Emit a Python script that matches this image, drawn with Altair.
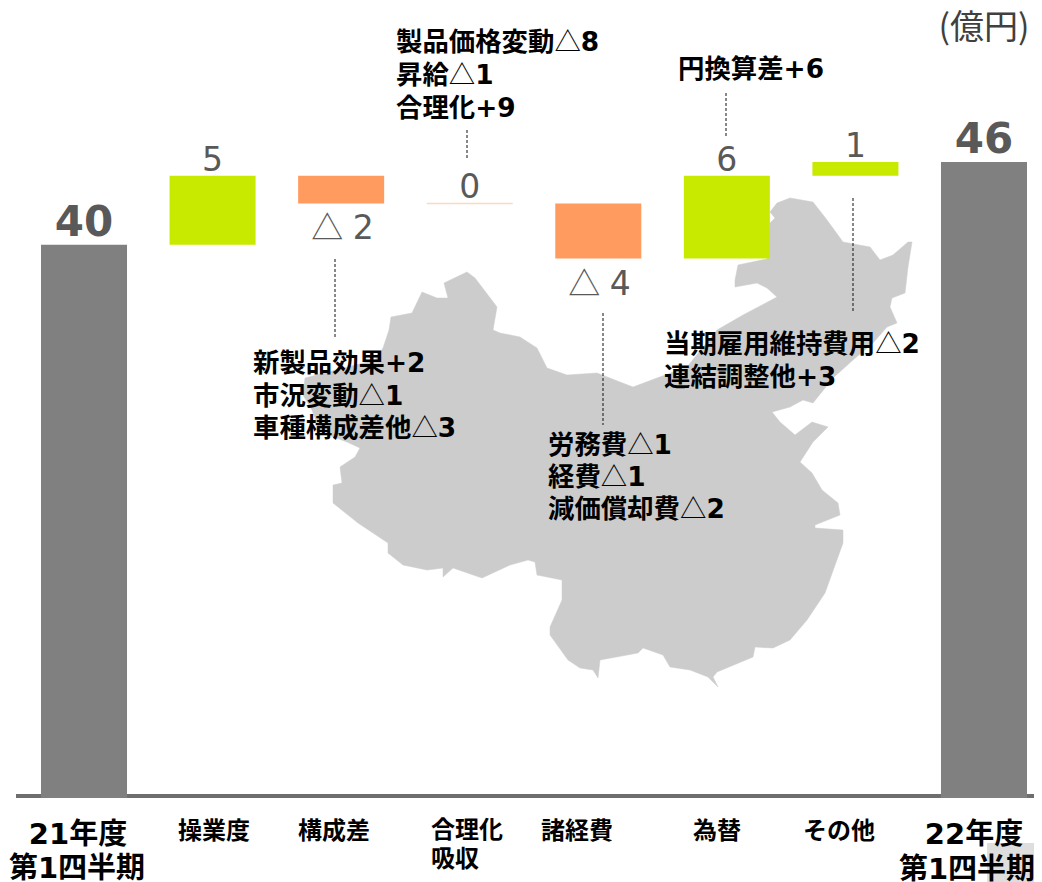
import altair as alt
import pandas as pd

FONT = "DejaVu Sans, Noto Sans CJK JP"
CJK = "Noto Sans CJK JP"

categories = ["21年度", "操業度", "構成差", "合理化吸収", "諸経費", "為替", "その他", "22年度"]
bar_start = [-0.15, 40, 45, 43, 43, 39, 45, -0.15]
bar_end = [40, 45, 43, 43, 39, 45, 46, 46]
bar_color = ["#808080", "#C8E900", "#FF9B5E", "#FFD8C0", "#FF9B5E", "#C8E900", "#C8E900", "#808080"]

total_labels = ["40", "46"]
total_cats = ["21年度", "22年度"]
total_vals = [40, 46]
up_labels = ["5", "0", "6", "1"]
up_cats = ["操業度", "合理化吸収", "為替", "その他"]
up_vals = [45, 43, 45, 46]
down_marks = ["△", "△"]
down_digits = ["2", "4"]
down_cats = ["構成差", "諸経費"]
down_vals = [43, 39]

note_text = ["製品価格変動△8", "昇給△1", "合理化+9", "円換算差+6",
             "新製品効果+2", "市況変動△1", "車種構成差他△3",
             "労務費△1", "経費△1", "減価償却費△2",
             "当期雇用維持費用△2", "連結調整他+3"]
note_x = [396, 396, 396, 678, 253, 253, 253, 548, 548, 548, 664, 664]
note_y = [43, 76, 109, 70, 364, 397, 429, 446, 478, 510, 345, 378]

leader_x = [335, 467, 603, 726, 853]
leader_y1 = [259, 130, 313, 93, 198]
leader_y2 = [338, 158, 425, 136, 312]

small_text = ["操業度", "構成差", "合理化", "吸収", "諸経費", "為替", "その他"]
small_x = [214, 334, 467, 455, 577, 717, 839]
small_y = [832, 832, 831, 860, 832, 832, 832]

big_text = ["21年度", "第1四半期", "22年度", "第1四半期"]
big_x = [78, 77, 974, 967]
big_y = [835, 869, 835, 870]

map_x = [467, 475, 497, 493, 500, 520, 537, 547, 567, 597, 620, 633, 657, 687, 717, 743, 777, 767, 757,
         735, 735, 738, 767, 770, 775, 770, 777, 790, 813, 827, 843, 870, 880, 893, 908, 912, 908, 905,
         892, 890, 897, 887, 873, 853, 833, 813, 803, 790, 772, 780, 795, 812, 828, 813, 800, 812, 822,
         838, 840, 815, 815, 843, 843, 825, 807, 790, 773, 755, 753, 717, 713, 718, 708, 690, 670, 663,
         643, 638, 600, 598, 593, 580, 568, 550, 550, 562, 562, 537, 535, 528, 510, 482, 453, 443, 443,
         427, 403, 388, 388, 358, 333, 333, 342, 340, 355, 360, 347, 320, 312, 303, 305, 375, 383, 389,
         391, 412, 422, 437, 448, 444]
map_y = [272, 278, 307, 330, 333, 337, 348, 368, 375, 373, 382, 387, 378, 367, 330, 315, 297, 288, 283,
         287, 280, 265, 259, 223, 218, 212, 203, 198, 202, 220, 242, 247, 260, 255, 242, 242, 267, 293,
         298, 307, 323, 327, 343, 360, 378, 403, 400, 407, 412, 422, 435, 422, 427, 442, 462, 473, 490,
         503, 515, 525, 528, 530, 543, 593, 620, 640, 648, 647, 657, 672, 677, 687, 677, 670, 667, 655,
         648, 653, 660, 678, 670, 668, 660, 635, 627, 600, 580, 575, 562, 560, 565, 578, 568, 577, 568,
         570, 565, 553, 543, 523, 503, 485, 483, 467, 457, 448, 442, 432, 410, 395, 378, 360, 348, 330,
         317, 313, 292, 298, 298, 283]

PX = alt.Scale(domain=[8, 1034], range=[0, 1026], nice=False, zero=False)
PY = alt.Scale(domain=[8, 882], range=[0, 874], nice=False, zero=False)
VY = alt.Scale(domain=[-6.25, 57.18], range=[874, 0], nice=False, zero=False)
BX = alt.Scale(type="band", domain=categories, range=[33, 1019], paddingInner=0.331, paddingOuter=0)

ring = [[x, y] for x, y in zip(map_x, map_y)]
ring.append(ring[0])
feature = {"type": "Feature", "properties": {}, "geometry": {"type": "Polygon", "coordinates": [ring]}}

china = (alt.Chart(alt.Data(values=[feature]))
         .mark_geoshape(fill="#CCCCCC", stroke="#CCCCCC", strokeWidth=0.5)
         .project(type="identity", reflectY=False, scale=1, translate=[-8, -8]))

corner = (alt.Chart(pd.DataFrame({"x": [987], "x2": [1034], "y": [843], "y2": [882]}))
          .mark_rect(color="#DEDEDE")
          .encode(x=alt.X("x:Q", scale=PX, axis=None), x2="x2:Q",
                  y=alt.Y("y:Q", scale=PY, axis=None), y2="y2:Q"))

baseline = (alt.Chart(pd.DataFrame({"x": [16], "x2": [1034], "y": [796]}))
            .mark_rule(color="#6E6E6E", strokeWidth=4)
            .encode(x=alt.X("x:Q", scale=PX, axis=None), x2="x2:Q",
                    y=alt.Y("y:Q", scale=PY, axis=None)))

df = pd.DataFrame({"cat": categories, "a": bar_start, "b": bar_end, "c": bar_color})
bars = (alt.Chart(df[df.a != df.b]).mark_bar()
        .encode(x=alt.X("cat:N", scale=BX, axis=None, sort=categories),
                y=alt.Y("a:Q", scale=VY, axis=None), y2="b:Q",
                color=alt.Color("c:N", scale=None)))
zero_bar = (alt.Chart(df[df.a == df.b]).mark_bar(stroke="#FFD8C0", strokeWidth=1.5)
            .encode(x=alt.X("cat:N", scale=BX, axis=None, sort=categories),
                    y=alt.Y("a:Q", scale=VY, axis=None), y2="b:Q"))


def value_text(labels, cats, vals, dy, size, weight="normal", color="#595959", dx=0, font=FONT):
    d = pd.DataFrame({"t": labels, "cat": cats, "v": vals})
    return (alt.Chart(d)
            .mark_text(font=font, fontSize=size, fontWeight=weight, color=color,
                       baseline="middle", dy=dy, dx=dx)
            .encode(x=alt.X("cat:N", scale=BX, axis=None, sort=categories),
                    y=alt.Y("v:Q", scale=VY, axis=None), text="t:N"))


def page_text(texts, xs, ys, size, align, weight="bold", color="#000000", font=FONT):
    d = pd.DataFrame({"t": texts, "x": xs, "y": ys})
    return (alt.Chart(d)
            .mark_text(font=font, fontSize=size, fontWeight=weight, color=color, align=align, baseline="middle")
            .encode(x=alt.X("x:Q", scale=PX, axis=None), y=alt.Y("y:Q", scale=PY, axis=None), text="t:N"))


# each △ is set apart: it is a thin full-width glyph in the bold notes
NOTE_EM = 26.4
head_t, head_x, head_y, tri_x, tri_y, tail_t, tail_x, tail_y = [], [], [], [], [], [], [], []
for t, x, y in zip(note_text, note_x, note_y):
    if "△" in t:
        h, d = t.split("△")
        head_t.append(h); head_x.append(x); head_y.append(y)
        tri_x.append(x + len(h) * NOTE_EM); tri_y.append(y)
        tail_t.append(d); tail_x.append(x + (len(h) + 1) * NOTE_EM); tail_y.append(y)
    else:
        head_t.append(t); head_x.append(x); head_y.append(y)

leaders = (alt.Chart(pd.DataFrame({"x": leader_x, "y": leader_y1, "y2": leader_y2}))
           .mark_rule(color="#111111", strokeWidth=1, strokeDash=[3, 2])
           .encode(x=alt.X("x:Q", scale=PX, axis=None),
                   y=alt.Y("y:Q", scale=PY, axis=None), y2="y2:Q"))

chart = (alt.layer(
    china, corner, baseline, bars, zero_bar, leaders,
    value_text(total_labels, total_cats, total_vals, -22, 42, "bold"),
    value_text(up_labels, up_cats, up_vals, -15, 33),
    value_text(down_marks, down_cats, down_vals, 26, 32, dx=-14, font=CJK),
    value_text(down_digits, down_cats, down_vals, 26, 33, dx=22),
    page_text(head_t, head_x, head_y, NOTE_EM, "left"),
    page_text(["△"] * len(tri_x), tri_x, tri_y, NOTE_EM, "left", "normal", "#000000", CJK),
    page_text(tail_t, tail_x, tail_y, NOTE_EM, "left"),
    page_text(small_text, small_x, small_y, 24, "center"),
    page_text(big_text, big_x, big_y, 29, "center"),
    page_text(["(億円)"], [984], [29], 34, "center", "normal", "#404040", CJK),
).resolve_scale(x="independent", y="independent")
 .configure_view(stroke=None)
 .properties(width=1026, height=874, padding=0, autosize=alt.AutoSizeParams(type="none"),
             background="white"))

chart.save("out.html", embed_options={"renderer": "svg", "actions": False})
